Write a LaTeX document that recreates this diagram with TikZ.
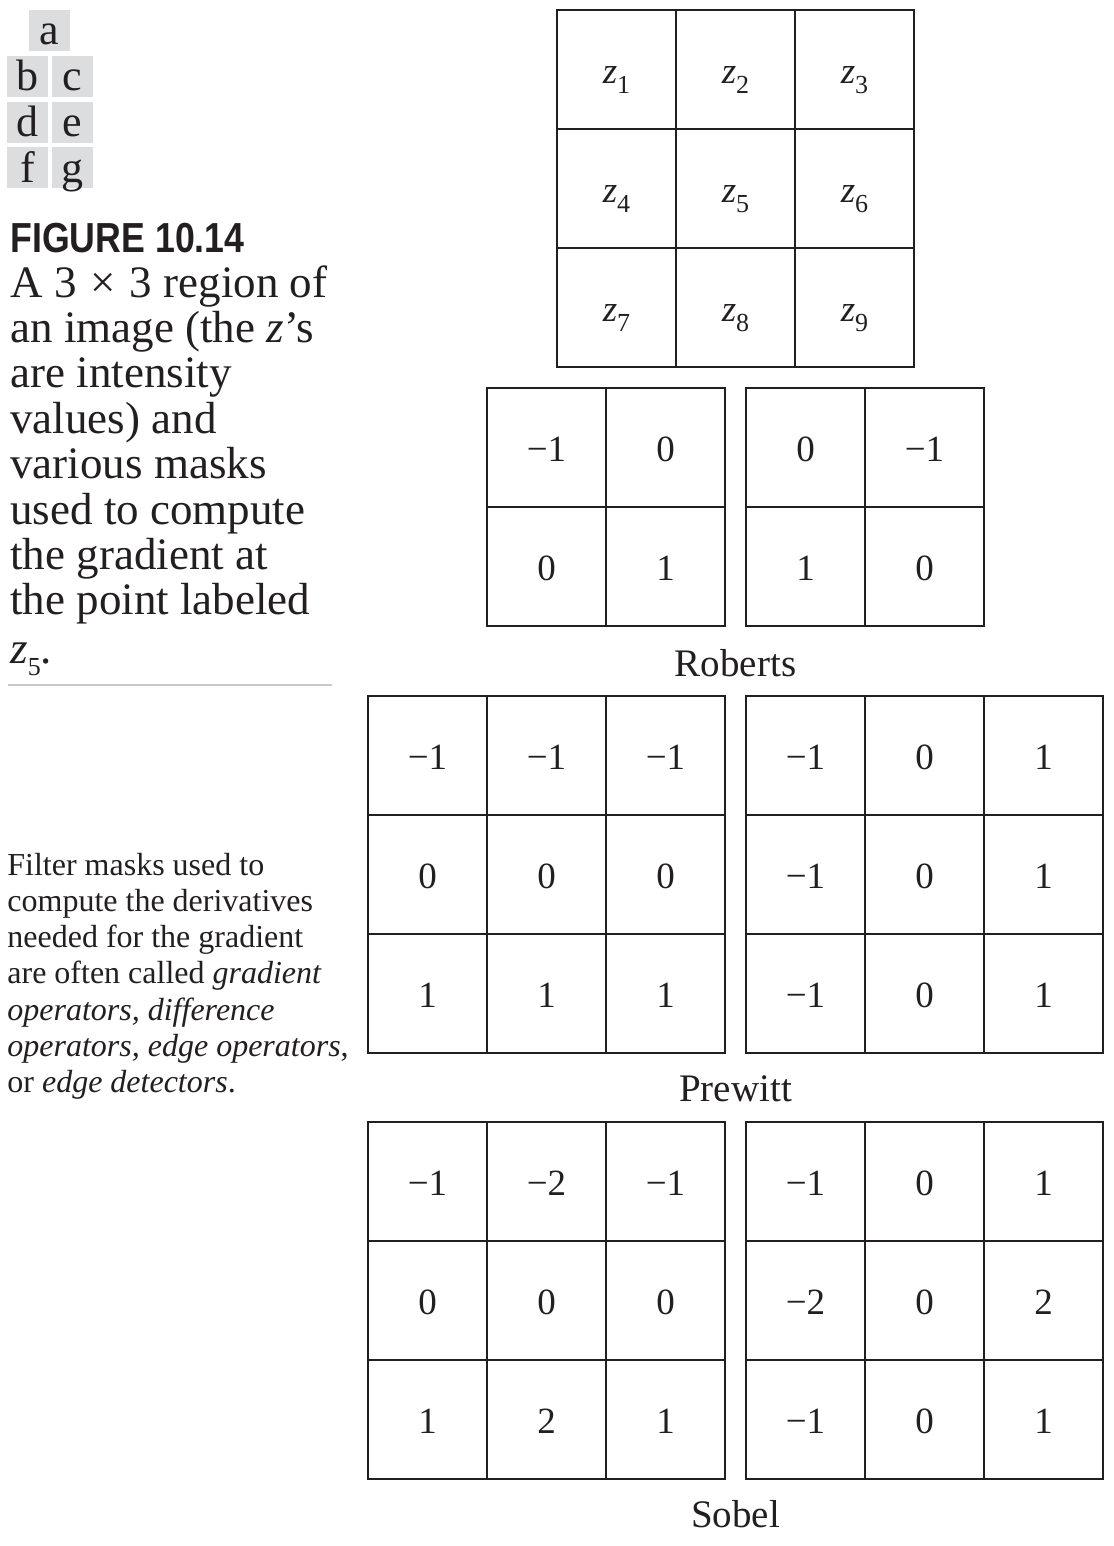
\documentclass[tikz,border=0pt]{standalone}
\usepackage{fontspec}
\usepackage{graphicx}
\setmainfont{Liberation Serif}
\newfontfamily\capsans{Liberation Sans}
\definecolor{ink}{HTML}{231F20}
\definecolor{tagfill}{HTML}{DCDDDF}
\definecolor{rulegray}{HTML}{C8C8C8}
\newcommand\zsub[1]{{\itshape z}\raisebox{-0.28em}{\fontsize{13pt}{13pt}\selectfont #1}}
% #1 name, #2 left x, #3 top y, #4 columns, #5 entries
\newcommand\maskgrid[5]{%
  \foreach \v [count=\k from 0] in {#5}{%
    \pgfmathtruncatemacro\cc{mod(\k,#4)}%
    \pgfmathtruncatemacro\rr{floor(\k/#4)}%
    \node[cellbox] (#1-\rr-\cc) at ({#2+59.5+119*\cc},{#3+59.5+119*\rr}) {\v};
  }}
\begin{document}
\begin{tikzpicture}[x=0.5pt,y=-0.5pt,
  cellbox/.style={draw=ink, line width=1.1pt, minimum width=59.5pt, minimum height=59.5pt,
    inner sep=0pt, text height=14pt, text depth=0pt, font=\fontsize{18.5pt}{18.5pt}\selectfont, text=ink},
  tagbox/.style={fill=tagfill, minimum width=20.5pt, minimum height=20.5pt, inner sep=0pt,
    text height=16pt, text depth=1.5pt, font=\fontsize{22pt}{22pt}\selectfont, text=ink},
  masklabel/.style={anchor=base, inner sep=0pt, font=\fontsize{19.5pt}{19.5pt}\selectfont, text=ink},
  textblock/.style={anchor=base west, inner sep=0pt, text=ink},
]
\useasboundingbox[fill=white] (0,0) rectangle (1113,1546);

% panel tags
\node[tagbox] (tag-a) at (49.5,30.5) {a};
\node[tagbox] (tag-b) at (27.5,76.5) {b};
\node[tagbox] (tag-c) at (72.5,76.5) {c};
\node[tagbox] (tag-d) at (27.5,122.5) {d};
\node[tagbox] (tag-e) at (72.5,122.5) {e};
\node[tagbox] (tag-f) at (27.5,168) {f};
\node[tagbox] (tag-g) at (72.5,168) {g};

% caption
\node[textblock] (figtitle) at (10,253)
  {\scalebox{0.85}[1]{\capsans\bfseries\fontsize{21pt}{21pt}\selectfont FIGURE 10.14}};
\node[textblock, font=\fontsize{22.5pt}{22.7pt}\selectfont] (caption) at (10,297)
  {\begin{tabular}[t]{@{}l@{}}
   A 3\hspace{0.06em} × \hspace{0.06em}3 region of\\
   an image (the {\itshape z}’s\\
   are intensity\\
   values) and\\
   various masks\\
   used to compute\\
   the gradient at\\
   the point labeled\\[1.5pt]
   \zsub{5}.
   \end{tabular}};
\draw[rulegray, line width=1pt] (8,685) -- (332,685);

% side note
\node[textblock, font=\fontsize{16pt}{18.15pt}\selectfont] (sidenote) at (7,875)
  {\begin{tabular}[t]{@{}l@{}}
   Filter masks used to\\
   compute the derivatives\\
   needed for the gradient\\
   are often called \textit{gradient}\\
   \textit{operators, difference}\\
   \textit{operators, edge operators},\\
   or \textit{edge detectors}.
   \end{tabular}};

% image region
\maskgrid{zz}{557}{10}{3}{\zsub{1},\zsub{2},\zsub{3},\zsub{4},\zsub{5},\zsub{6},\zsub{7},\zsub{8},\zsub{9}}

% Roberts
\maskgrid{robA}{487}{388}{2}{−1,0,0,1}
\maskgrid{robB}{746}{388}{2}{0,−1,1,0}
\node[masklabel] (roberts) at (735.5,676) {Roberts};

% Prewitt
\maskgrid{preA}{368}{696}{3}{−1,−1,−1,0,0,0,1,1,1}
\maskgrid{preB}{746}{696}{3}{−1,0,1,−1,0,1,−1,0,1}
\node[masklabel] (prewitt) at (735.5,1101) {Prewitt};

% Sobel
\maskgrid{sobA}{368}{1122}{3}{−1,−2,−1,0,0,0,1,2,1}
\maskgrid{sobB}{746}{1122}{3}{−1,0,1,−2,0,2,−1,0,1}
\node[masklabel] (sobel) at (735.5,1527) {Sobel};
\end{tikzpicture}
\end{document}
